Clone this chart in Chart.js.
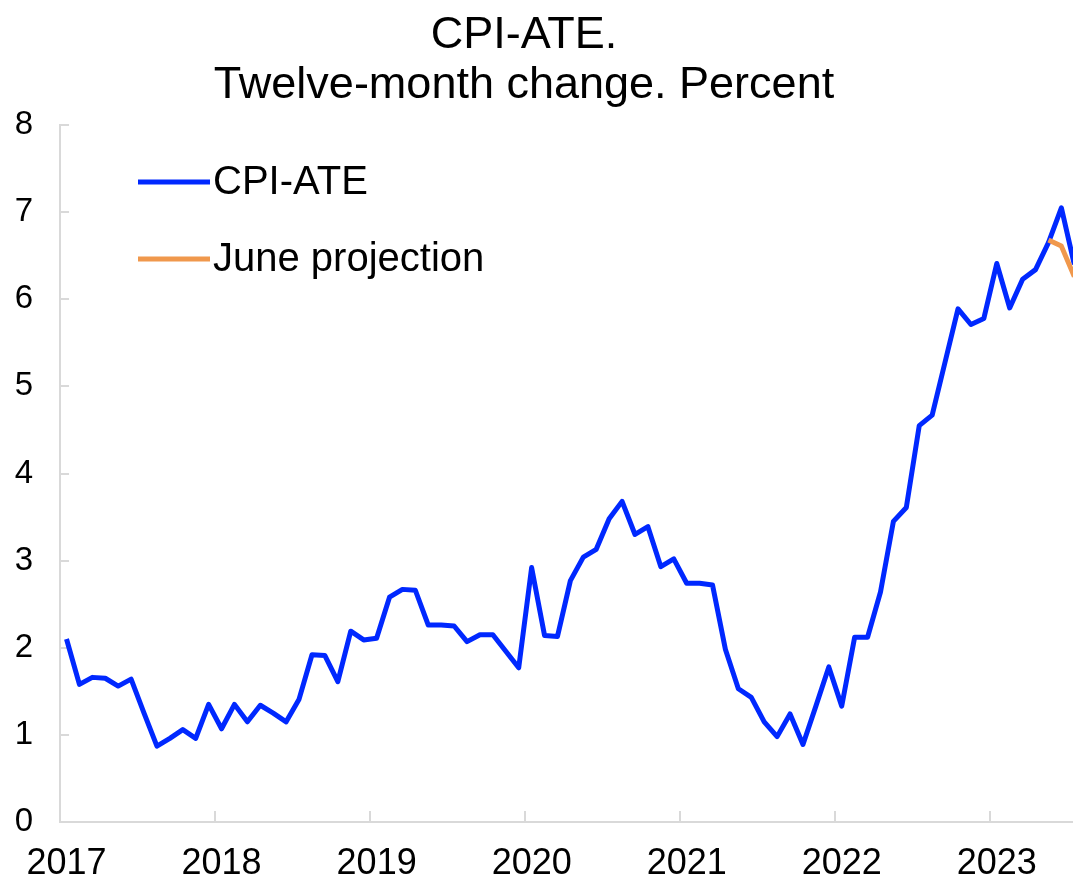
<!DOCTYPE html>
<html><head><meta charset="utf-8">
<script src="https://cdn.jsdelivr.net/npm/chart.js@4.4.0/dist/chart.umd.min.js"></script>
<style>html,body{margin:0;padding:0;background:#fff;overflow:hidden}#wrap{width:1073px;height:884px;position:relative}canvas{display:block}</style>
</head><body><div id="wrap"><canvas id="c" width="1073" height="884"></canvas></div>
<script>
// ---- data ----
const titleLines = ['CPI-ATE.', 'Twelve-month change. Percent'];
const seriesLabels = ['CPI-ATE', 'June projection'];
const yearTicks = [2017, 2018, 2019, 2020, 2021, 2022, 2023];
const months = [
  '2017-01','2017-02','2017-03','2017-04','2017-05','2017-06','2017-07','2017-08','2017-09','2017-10','2017-11','2017-12',
  '2018-01','2018-02','2018-03','2018-04','2018-05','2018-06','2018-07','2018-08','2018-09','2018-10','2018-11','2018-12',
  '2019-01','2019-02','2019-03','2019-04','2019-05','2019-06','2019-07','2019-08','2019-09','2019-10','2019-11','2019-12',
  '2020-01','2020-02','2020-03','2020-04','2020-05','2020-06','2020-07','2020-08','2020-09','2020-10','2020-11','2020-12',
  '2021-01','2021-02','2021-03','2021-04','2021-05','2021-06','2021-07','2021-08','2021-09','2021-10','2021-11','2021-12',
  '2022-01','2022-02','2022-03','2022-04','2022-05','2022-06','2022-07','2022-08','2022-09','2022-10','2022-11','2022-12',
  '2023-01','2023-02','2023-03','2023-04','2023-05','2023-06','2023-07'
];
const cpiAte = [
  2.10, 1.58, 1.66, 1.65, 1.56, 1.64, 1.25, 0.87, 0.96, 1.06, 0.96, 1.35,
  1.07, 1.35, 1.15, 1.34, 1.25, 1.15, 1.41, 1.92, 1.91, 1.61, 2.19, 2.09,
  2.11, 2.58, 2.67, 2.66, 2.26, 2.26, 2.25, 2.07, 2.15, 2.15, 1.96, 1.77,
  2.92, 2.14, 2.13, 2.77, 3.04, 3.13, 3.48, 3.68, 3.30, 3.39, 2.93, 3.02,
  2.74, 2.74, 2.72, 1.98, 1.53, 1.43, 1.15, 0.98, 1.24, 0.89, 1.33, 1.78,
  1.33, 2.12, 2.12, 2.64, 3.45, 3.61, 4.55, 4.67, 5.28, 5.89, 5.71, 5.78,
  6.41, 5.90, 6.23, 6.34, 6.65, 7.05, 6.40
];
const projMonths = ['2023-05', '2023-06', '2023-07'];
const projValues = [6.68, 6.61, 6.26];

// ---- helpers ----
const FONT = "'Liberation Sans', Arial, Helvetica, sans-serif";
const BLUE = '#0028ff';
const ORANGE = '#f0984c';
const AXIS = '#d9d9d9';
const firstYear = yearTicks[0];
function monthPos(m) { // middle of the month, in months since Jan of first year
  const [y, mo] = m.split('-').map(Number);
  return (y - firstYear) * 12 + (mo - 1) + 0.5;
}
const cpiPoints = months.map((m, i) => ({ x: monthPos(m), y: cpiAte[i] }));
const projPoints = projMonths.map((m, i) => ({ x: monthPos(m), y: projValues[i] }));

const titlePlugin = {
  id: 'titleText',
  afterDraw(chart) {
    const ctx = chart.ctx;
    ctx.save();
    ctx.fillStyle = '#000';
    ctx.textAlign = 'center';
    ctx.textBaseline = 'alphabetic';
    ctx.font = '45px ' + FONT;
    ctx.fillText(titleLines[0], 524, 48);
    ctx.fillText(titleLines[1], 524, 98);
    ctx.restore();
  }
};

const tickPlugin = {
  id: 'innerTicks',
  beforeDatasetsDraw(chart) {
    const ctx = chart.ctx;
    const xs = chart.scales.x, ys = chart.scales.y;
    const a = chart.chartArea;
    ctx.save();
    ctx.strokeStyle = AXIS;
    ctx.lineWidth = 2;
    ys.ticks.forEach(t => {
      const y = Math.round(ys.getPixelForValue(t.value));
      ctx.beginPath(); ctx.moveTo(a.left, y); ctx.lineTo(a.left + 9, y); ctx.stroke();
    });
    xs.ticks.forEach(t => {
      const x = Math.round(xs.getPixelForValue(t.value));
      ctx.beginPath(); ctx.moveTo(x, a.bottom); ctx.lineTo(x, a.bottom - 11); ctx.stroke();
    });
    ctx.restore();
  }
};

const legendPlugin = {
  id: 'customLegend',
  afterDraw(chart) {
    const ctx = chart.ctx;
    ctx.save();
    ctx.font = '40px ' + FONT;
    ctx.textBaseline = 'middle';
    ctx.textAlign = 'left';
    const rows = [182, 259];
    chart.data.datasets.slice().sort((p, q) => p.legendIndex - q.legendIndex).forEach((ds, i) => {
      const y = rows[i];
      ctx.strokeStyle = ds.borderColor;
      ctx.lineWidth = 5;
      ctx.beginPath(); ctx.moveTo(138, y); ctx.lineTo(210, y); ctx.stroke();
      ctx.fillStyle = '#000';
      ctx.fillText(ds.label, 213, y + 1);
    });
    ctx.restore();
  }
};

new Chart(document.getElementById('c'), {
  type: 'line',
  data: {
    datasets: [
      { label: seriesLabels[0], data: cpiPoints, borderColor: BLUE, borderWidth: 5, pointRadius: 0,
        borderJoinStyle: 'round', tension: 0, order: 1, legendIndex: 0 },
      { label: seriesLabels[1], data: projPoints, borderColor: ORANGE, borderWidth: 5, pointRadius: 0,
        borderJoinStyle: 'round', tension: 0, order: 0, legendIndex: 1 }
    ]
  },
  options: {
    responsive: false,
    animation: false,
    devicePixelRatio: 1,
    layout: { padding: { top: 125, right: 0, left: 0, bottom: 0 } },
    plugins: { legend: { display: false }, title: { display: false }, tooltip: { enabled: false } },
    scales: {
      x: {
        type: 'linear',
        min: 0,
        max: 78.4,
        afterBuildTicks: s => { s.ticks = yearTicks.map(y => ({ value: (y - firstYear) * 12 })); },
        afterFit: s => { s.height = 62; },
        grid: { display: true, drawOnChartArea: false, drawTicks: false },
        border: { display: true, color: AXIS, width: 2 },
        ticks: {
          color: '#000', font: { family: FONT, size: 36 }, padding: 20, labelOffset: 6.5,
          maxRotation: 0, autoSkip: false,
          callback: v => String(firstYear + Math.round(v / 12))
        }
      },
      y: {
        min: 0, max: 8,
        afterFit: s => { s.width = 58; },
        grid: { display: true, drawOnChartArea: false, drawTicks: false },
        border: { display: true, color: AXIS, width: 2 },
        ticks: { stepSize: 1, color: '#000', font: { family: FONT, size: 33 }, padding: 27 }
      }
    }
  },
  plugins: [titlePlugin, tickPlugin, legendPlugin]
});
</script>
</body></html>
